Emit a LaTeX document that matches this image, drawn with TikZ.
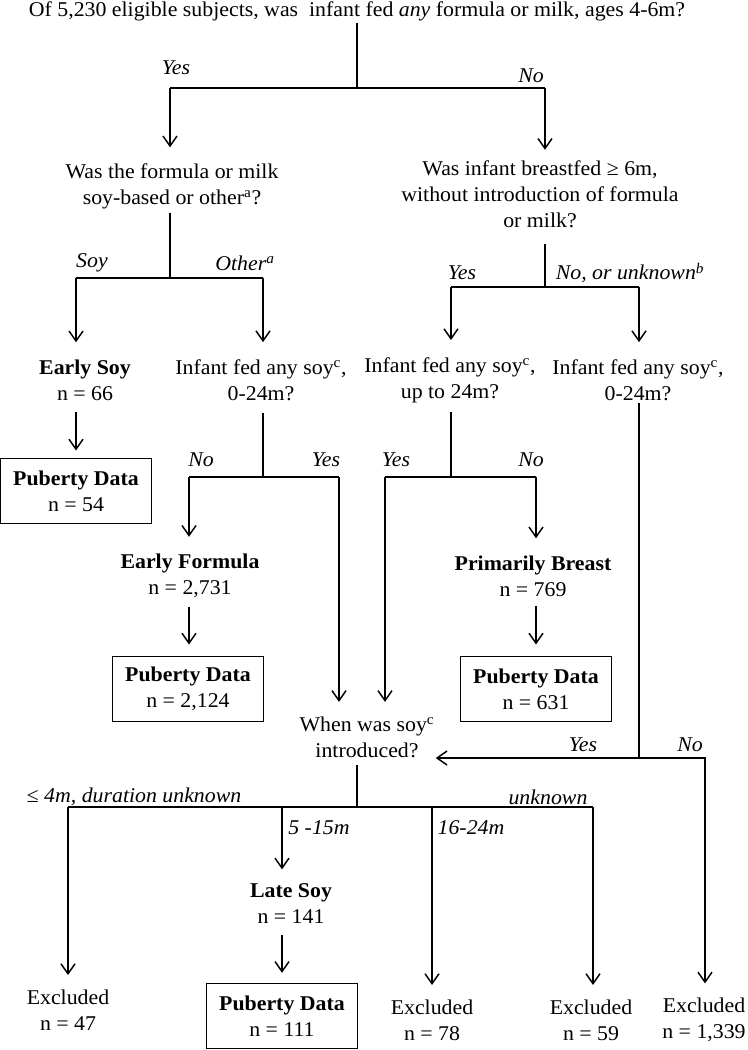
\documentclass[tikz,border=0pt]{standalone}
\usepackage{fontspec}
\setmainfont{Liberation Serif}[FakeStretch=1.04]
\usetikzlibrary{arrows.meta}
\newcommand\fsz{\fontsize{15.75pt}{19.5pt}\selectfont}
\begin{document}
\begin{tikzpicture}[x=0.75pt,y=-0.75pt,
  txt/.style={font=\fsz, align=center, inner sep=0pt, outer sep=0pt},
  lab/.style={font=\fsz\itshape, inner sep=0pt},
  box/.style={txt, draw, line width=1.1pt, minimum width=113pt, minimum height=48.75pt},
  ln/.style={line width=1.1pt},
  arr/.style={ln, -{Straight Barb[length=7.5pt,width=10.5pt]}}]
\useasboundingbox (0,0) rectangle (747,1050);
% nodes
\node[txt, anchor=base] (top) at (357,16) {Of 5,230 eligible subjects, was\ \ infant fed \textit{any} formula or milk, ages 4-6m?};
\node[txt] (qL) at (172,186) {Was the formula or milk\\soy-based or other\textsuperscript{a}?};
\node[txt] (qR) at (540,194) {Was infant breastfed ≥ 6m,\\without introduction of formula\\or milk?};
\node[txt] (esoy) at (85,380) {\textbf{Early Soy}\\n = 66};
\node[txt] (q1) at (261,380) {Infant fed any soy\textsuperscript{c},\\0-24m?};
\node[txt] (q2) at (450,380) {Infant fed any soy\textsuperscript{c},\\up to 24m?};
\node[txt] (q3) at (638,380) {Infant fed any soy\textsuperscript{c},\\0-24m?};
\node[box] (pb54) at (76,491) {\textbf{Puberty Data}\\n = 54};
\node[txt] (eform) at (190,576) {\textbf{Early Formula}\\n = 2,731};
\node[txt] (pbrst) at (533,576) {\textbf{Primarily Breast}\\n = 769};
\node[box] (pb2124) at (188,689) {\textbf{Puberty Data}\\n = 2,124};
\node[box] (pb631) at (536,689) {\textbf{Puberty Data}\\n = 631};
\node[txt] (soyq) at (367,737) {When was soy\textsuperscript{c}\\introduced?};
\node[txt] (late) at (291,904) {\textbf{Late Soy}\\n = 141};
\node[box] (pb111) at (282,1016) {\textbf{Puberty Data}\\n = 111};
\node[txt] (ex47) at (68,1010) {Excluded\\n = 47};
\node[txt] (ex78) at (432,1020) {Excluded\\n = 78};
\node[txt] (ex59) at (591,1020) {Excluded\\n = 59};
\node[txt] (ex1339) at (704,1020) {Excluded\\n = 1,339};
% labels
\node[lab] (lY1) at (176,68) {Yes};
\node[lab] (lN1) at (531,76) {No};
\node[lab] (lSoy) at (92,263) {Soy};
\node[lab] (lOth) at (245,263) {Other\textsuperscript{a}};
\node[lab] (lY2) at (462,273) {Yes};
\node[lab] (lNU) at (630,273) {No, or unknown\textsuperscript{b}};
\node[lab] (lN3) at (201,460) {No};
\node[lab] (lY3) at (326,460) {Yes};
\node[lab] (lY4) at (396,460) {Yes};
\node[lab] (lN4) at (531,460) {No};
\node[lab] (lY5) at (583,745) {Yes};
\node[lab] (lN5) at (690,745) {No};
\node[lab] (l4m) at (134,797) {≤ 4m, duration unknown};
\node[lab] (lUnk) at (548,797) {unknown};
\node[lab] (l515) at (319,828) {5 -15m};
\node[lab] (l1624) at (471,828) {16-24m};
% junctions
\coordinate (j0) at (357,88); \coordinate (jA) at (170,88); \coordinate (jB) at (545,88);
\coordinate (jC) at (170,278); \coordinate (jC1) at (76,278); \coordinate (jC2) at (263,278);
\coordinate (jD) at (545,287); \coordinate (jD1) at (451,287); \coordinate (jD2) at (639,287);
\coordinate (jE) at (263,477); \coordinate (jE1) at (189,477); \coordinate (jE2) at (339,477);
\coordinate (jF) at (451,477); \coordinate (jF1) at (385,477); \coordinate (jF2) at (536,477);
\coordinate (jG) at (639,758); \coordinate (jG2) at (705,758);
\coordinate (jH) at (357,807); \coordinate (jH1) at (68,807); \coordinate (jH2) at (282,807);
\coordinate (jH3) at (432,807); \coordinate (jH4) at (593,807);
% connectors
\draw[ln, shorten <=2pt] (top.south -| j0) -- (j0);
\draw[ln] (jA) -- (jB);
\draw[arr, shorten >=12pt] (jA) -- (jA |- qL.north);
\draw[arr, shorten >=8pt] (jB) -- (jB |- qR.north);
\draw[ln, shorten <=3pt] (qL.south -| jC) -- (jC);
\draw[ln] (jC1) -- (jC2);
\draw[arr, shorten >=13pt] (jC1) -- (jC1 |- esoy.north);
\draw[arr, shorten >=13pt] (jC2) -- (jC2 |- q1.north);
\draw[ln, shorten <=12pt] (qR.south -| jD) -- (jD);
\draw[ln] (jD1) -- (jD2);
\draw[arr, shorten >=13pt] (jD1) -- (jD1 |- q2.north);
\draw[arr, shorten >=13pt] (jD2) -- (jD2 |- q3.north);
\draw[arr, shorten <=9pt, shorten >=6pt] (esoy.south -| pb54.north) -- (pb54.north);
\draw[ln, shorten <=9pt] (q1.south -| jE) -- (jE);
\draw[ln] (jE1) -- (jE2);
\draw[arr, shorten >=13pt] (jE1) -- (jE1 |- eform.north);
\draw[arr, shorten >=11pt] (jE2) -- (jE2 |- soyq.north);
\draw[ln, shorten <=7pt] (q2.south -| jF) -- (jF);
\draw[ln] (jF1) -- (jF2);
\draw[arr, shorten >=11pt] (jF1) -- (jF1 |- soyq.north);
\draw[arr, shorten >=13pt] (jF2) -- (jF2 |- pbrst.north);
\draw[arr, shorten <=7pt, shorten >=9pt] (eform.south -| jE1) -- (jE1 |- pb2124.north);
\draw[arr, shorten <=7pt, shorten >=9pt] (pbrst.south -| jF2) -- (jF2 |- pb631.north);
\draw[ln, shorten <=2pt] (q3.south -| jG) -- (jG);
\draw[arr, shorten >=1pt] (jG) -- (jG -| soyq.east);
\draw[arr, shorten >=11pt] (jG) -- (jG2) -- (jG2 |- ex1339.north);
\draw[ln, shorten <=6pt] (soyq.south -| jH) -- (jH);
\draw[ln] (jH1) -- (jH4);
\draw[arr, shorten >=11pt] (jH1) -- (jH1 |- ex47.north);
\draw[arr, shorten >=11pt] (jH2) -- (jH2 |- late.north);
\draw[arr, shorten >=11pt] (jH3) -- (jH3 |- ex78.north);
\draw[arr, shorten >=11pt] (jH4) -- (jH4 |- ex59.north);
\draw[arr, shorten <=8pt, shorten >=8pt] (late.south -| pb111.north) -- (pb111.north);
\end{tikzpicture}
\end{document}
